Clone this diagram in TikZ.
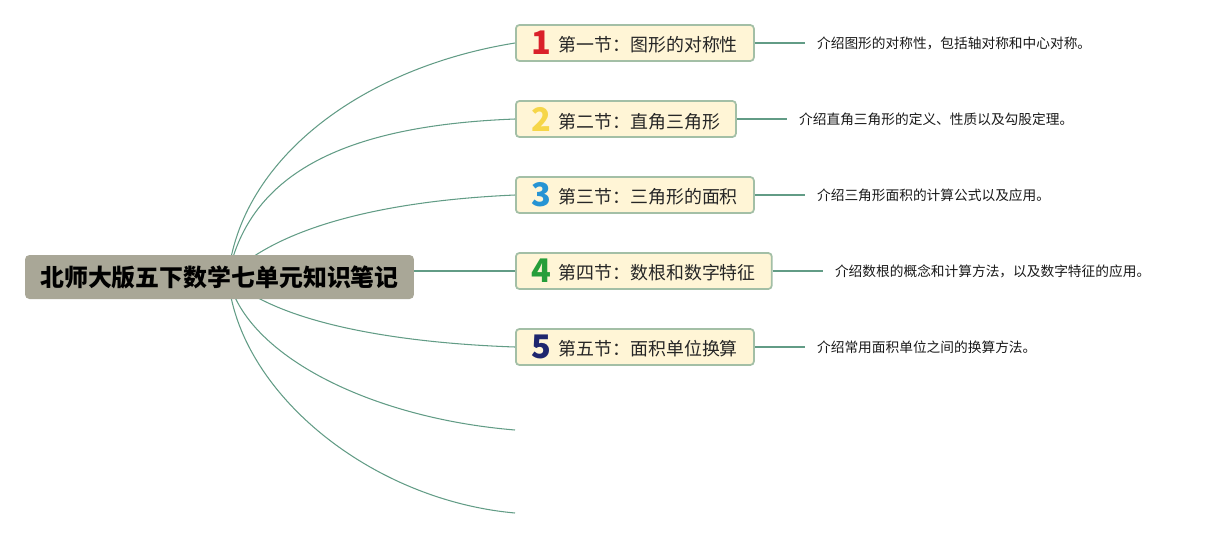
\documentclass[tikz,border=0pt]{standalone}
\usepackage{fontspec}
\setmainfont{Noto Sans CJK SC}
\usetikzlibrary{positioning}
\definecolor{mapG}{RGB}{98,156,134}
\definecolor{mapBox}{RGB}{163,191,166}
\definecolor{mapFill}{RGB}{255,245,214}
\definecolor{mapRoot}{RGB}{169,167,151}
\definecolor{numR}{RGB}{218,32,42}
\definecolor{numY}{RGB}{246,214,72}
\definecolor{numB}{RGB}{38,148,212}
\definecolor{numGr}{RGB}{38,158,58}
\definecolor{numN}{RGB}{30,38,110}
\newcommand\secnum[2]{\raisebox{-1.6pt}{\color{#2}\bfseries\fontsize{18.5}{18}\selectfont #1}\hspace{0.14cm}}
\tikzset{
  link/.style={mapG,line width=0.6pt},
  rootbox/.style={fill=mapRoot,rounded corners=2.5pt,minimum width=7.78cm,minimum height=0.88cm,
    font=\bfseries\fontsize{13.6}{15}\selectfont,text=black},
  secbox/.style={draw=mapBox,line width=1pt,fill=mapFill,rounded corners=2pt,anchor=west,
    minimum height=0.72cm,inner xsep=0.32cm,inner ysep=1pt,font=\fontsize{10.2}{12}\selectfont,text=black!85},
  descbox/.style={inner xsep=0.24cm,inner ysep=0pt,font=\fontsize{7.8}{9}\selectfont,text=black!90}
}

\begin{document}
\begin{tikzpicture}[x=0.02cm,y=-0.02cm]
\useasboundingbox (0,0) rectangle (1217,538);
\coordinate (hub) at (228,277);
\foreach \i/\col/\y/\txt/\desc in {
  1/numR/43/第一节：图形的对称性/介绍图形的对称性，包括轴对称和中心对称。,
  2/numY/119/第二节：直角三角形/介绍直角三角形的定义、性质以及勾股定理。,
  3/numB/195/第三节：三角形的面积/介绍三角形面积的计算公式以及应用。,
  4/numGr/271/第四节：数根和数字特征/介绍数根的概念和计算方法，以及数字特征的应用。,
  5/numN/347/第五节：面积单位换算/介绍常用面积单位之间的换算方法。} {
  \node[secbox] (b\i) at (515,\y) {\secnum{\i}{\col}\txt};
  \node[descbox,right=1cm of b\i,anchor=west] (d\i) {\desc};
  \draw[link] (b\i.east) -- (d\i.west);
}
\coordinate (e6) at (515,430); \coordinate (e7) at (515,513);
% curved links from the centre
\foreach \t/\ax/\ay/\bx/\by in {b1.west/240/160/360/68, b2.west/250/165/360/125, b3.west/283/222/400/200,
    b5.west/278/324/400/343, e6/245/355/370/418, e7/238/392/370/500}
  \draw[link] (hub) .. controls (\ax,\ay) and (\bx,\by) .. (\t);
\node[rootbox] (root) at (219.5,277) {北师大版五下数学七单元知识笔记};
\draw[link] (b4.west -| root.east) -- (b4.west);
\end{tikzpicture}
\end{document}
